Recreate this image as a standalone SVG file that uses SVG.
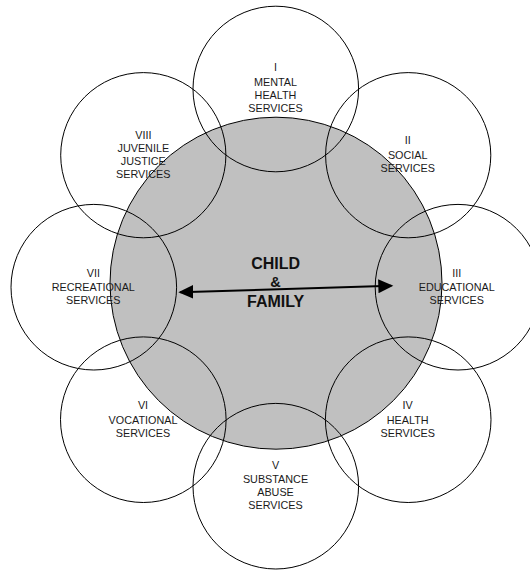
<svg xmlns="http://www.w3.org/2000/svg" width="530" height="571" viewBox="0 0 530 571">
<style>
.bg{fill:#ffffff}
.core{fill:#c0c0c0;stroke:#000;stroke-width:1}
.svc{fill:none;stroke:#000;stroke-width:1}
.lbl{font-family:"Liberation Sans",Arial,sans-serif;font-size:10.8px;fill:#1a1a1a;text-anchor:middle}
.main{font-family:"Liberation Sans",Arial,sans-serif;font-size:16px;font-weight:bold;fill:#111;text-anchor:middle}
.amp{font-size:14.5px}
.arrow{stroke:#000;stroke-width:2;fill:none}
</style>
<defs>
<marker id="ah" markerUnits="userSpaceOnUse" markerWidth="16" markerHeight="15" viewBox="0 0 16 15" refX="13" refY="7" orient="auto-start-reverse">
<path d="M0,0 L15,7 L0,14 Z" fill="#000"/>
</marker>
</defs>
<rect class="bg" x="0" y="0" width="530" height="571"/>
<g id="child-family">
<circle class="core" cx="276" cy="283.2" r="166"/>
</g>
<g id="connectors">
<line class="arrow" x1="180.3" y1="292.24" x2="391.3" y2="285.76" marker-start="url(#ah)" marker-end="url(#ah)"/>
</g>
<g id="child-family-label">
<text class="main" x="275.7" y="268.6">CHILD</text>
<text class="main amp" x="275.5" y="286.7">&amp;</text>
<text class="main" x="275.7" y="307.4">FAMILY</text>
</g>
<g id="node-I">
<circle class="svc" cx="275.8" cy="89" r="82.8"/>
<text class="lbl" x="275.5" y="71.3">I</text>
<text class="lbl" x="275.5" y="85.7">MENTAL</text>
<text class="lbl" x="275.5" y="99">HEALTH</text>
<text class="lbl" x="275.5" y="112.3">SERVICES</text>
</g>
<g id="node-II">
<circle class="svc" cx="408.2" cy="155.2" r="82.6"/>
<text class="lbl" x="407.7" y="144.3">II</text>
<text class="lbl" x="407.7" y="158.5">SOCIAL</text>
<text class="lbl" x="407.7" y="171.8">SERVICES</text>
</g>
<g id="node-III">
<circle class="svc" cx="458" cy="287.2" r="82.8"/>
<text class="lbl" x="456.7" y="277.3">III</text>
<text class="lbl" x="456.7" y="291">EDUCATIONAL</text>
<text class="lbl" x="456.7" y="303.7">SERVICES</text>
</g>
<g id="node-IV">
<circle class="svc" cx="408.2" cy="419.7" r="82.8"/>
<text class="lbl" x="407.7" y="409.3">IV</text>
<text class="lbl" x="407.7" y="423.5">HEALTH</text>
<text class="lbl" x="407.7" y="436.7">SERVICES</text>
</g>
<g id="node-V">
<circle class="svc" cx="275.8" cy="486.2" r="82.8"/>
<text class="lbl" x="275.5" y="469.3">V</text>
<text class="lbl" x="275.5" y="482.7">SUBSTANCE</text>
<text class="lbl" x="275.5" y="496">ABUSE</text>
<text class="lbl" x="275.5" y="509.3">SERVICES</text>
</g>
<g id="node-VI">
<circle class="svc" cx="143.3" cy="419.7" r="82.8"/>
<text class="lbl" x="143" y="409.3">VI</text>
<text class="lbl" x="143" y="423.5">VOCATIONAL</text>
<text class="lbl" x="143" y="436.7">SERVICES</text>
</g>
<g id="node-VII">
<circle class="svc" cx="93.8" cy="287.2" r="82.8"/>
<text class="lbl" x="93.3" y="277.3">VII</text>
<text class="lbl" x="93.3" y="291">RECREATIONAL</text>
<text class="lbl" x="93.3" y="303.7">SERVICES</text>
</g>
<g id="node-VIII">
<circle class="svc" cx="143.3" cy="155.2" r="82.6"/>
<text class="lbl" x="143.3" y="138.7">VIII</text>
<text class="lbl" x="143.3" y="152">JUVENILE</text>
<text class="lbl" x="143.3" y="164.7">JUSTICE</text>
<text class="lbl" x="143.3" y="177.7">SERVICES</text>
</g>
</svg>
